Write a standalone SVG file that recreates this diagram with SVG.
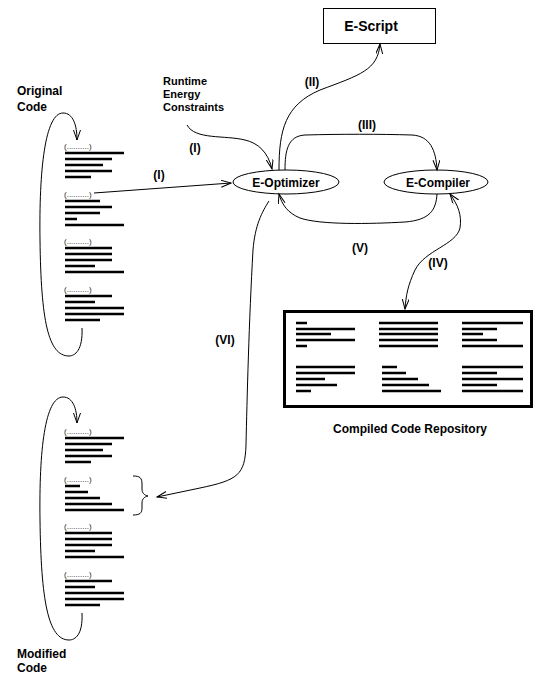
<svg xmlns="http://www.w3.org/2000/svg" width="535" height="681" viewBox="0 0 535 681">
<defs>
<style>
.t{font-family:"Liberation Sans",Arial,sans-serif;font-weight:bold;font-size:12px;fill:#000}
.s{font-size:11px}
.p{font-family:"Liberation Sans",Arial,sans-serif;font-size:8px;fill:#222}
.c{stroke:#000;stroke-width:1;fill:none}
.ln{stroke:#000;stroke-width:2.6;fill:none}
.node{stroke:#000;stroke-width:1;fill:#fff}
</style>
<marker id="ah" markerUnits="userSpaceOnUse" markerWidth="12" markerHeight="8" refX="10" refY="3.5" orient="auto-start-reverse">
<path d="M0,0 L10,3.5 L0,7" fill="none" stroke="#000" stroke-width="1"/>
</marker>
</defs>
<rect width="535" height="681" fill="#fff"/>

<g id="original-code">
<text class="t" x="17" y="95">Original</text>
<text class="t" x="17" y="111">Code</text>
<text class="p" x="64" y="149">(..........)</text>
<path class="ln" d="M65,153H124M65,159H112M65,165H103M65,171H112M65,177H91"/>
<text class="p" x="64" y="197">(..........)</text>
<path class="ln" d="M65,201H100M65,207H112M65,213H100M65,219H77M65,225H124"/>
<text class="p" x="64" y="244">(..........)</text>
<path class="ln" d="M65,248H112M65,254H112M65,260H112M65,266H95M65,272H124"/>
<text class="p" x="64" y="292">(..........)</text>
<path class="ln" d="M65,296H112M65,302H95M65,308H124M65,314H124M65,320H100"/>
</g>

<g id="modified-code">
<text class="p" x="64" y="434">(..........)</text>
<path class="ln" d="M65,438H124M65,444H112M65,450H103M65,456H112M65,462H91"/>
<text class="p" x="64" y="482">(..........)</text>
<path class="ln" d="M65,486H80M65,492H88M65,498H100M65,504H112M65,510H124"/>
<text class="p" x="64" y="529">(..........)</text>
<path class="ln" d="M65,533H112M65,539H112M65,545H112M65,551H95M65,557H124"/>
<text class="p" x="64" y="577">(..........)</text>
<path class="ln" d="M65,581H112M65,587H95M65,593H124M65,599H124M65,605H100"/>
<path class="c" d="M133,476 C140,476 142,478 142,484 L142,489 C142,493 144,495 148,496 C144,497 142,499 142,503 L142,508 C142,513 140,515 133,515"/>
<text class="t" x="17" y="658">Modified</text>
<text class="t" x="17" y="672">Code</text>
</g>

<g id="runtime-constraints">
<text class="t s" x="163" y="85">Runtime</text>
<text class="t s" x="163" y="98">Energy</text>
<text class="t s" x="163" y="111">Constraints</text>
</g>

<g id="e-script">
<rect class="node" x="323.5" y="8.5" width="112" height="35"/>
<text class="t" x="371" y="31" style="font-size:14px" text-anchor="middle">E-Script</text>
</g>

<g id="e-optimizer">
<ellipse class="node" cx="286" cy="182" rx="53" ry="12"/>
<text class="t" x="286" y="187" text-anchor="middle">E-Optimizer</text>
</g>

<g id="e-compiler">
<ellipse class="node" cx="436" cy="182" rx="52" ry="12"/>
<text class="t" x="438" y="187" text-anchor="middle">E-Compiler</text>
</g>

<g id="repository">
<rect x="284.5" y="311.5" width="247" height="95" fill="#fff" stroke="#000" stroke-width="3"/>
<path class="ln" d="M296,323H307M296,329H355M296,334H331M296,340H355M296,346H307"/>
<path class="ln" d="M379,323H438M379,329H438M379,334H438M379,340H438M379,346H438"/>
<path class="ln" d="M462,323H523M462,329H497M462,334H483M462,340H497M462,346H523"/>
<path class="ln" d="M296,367H355M296,373H355M296,379H325M296,385H337M296,391H311"/>
<path class="ln" d="M382,367H397M382,373H406M382,379H418M382,385H429M382,391H441"/>
<path class="ln" d="M462,367H523M462,373H497M462,379H523M462,385H497M462,391H523"/>
<text class="t" x="410" y="433" text-anchor="middle">Compiled Code Repository</text>
</g>

<g id="connectors">
<path class="c" d="M82,328 C83,350 75,356 69,356 C48,356 41,320 40,240 C39,170 45,113 63,113 C73,113 77,125 77,140" marker-end="url(#ah)"/>
<path class="c" d="M82,613 C83,635 75,640 69,640 C48,640 41,600 40,520 C39,450 45,397 63,397 C73,397 77,409 77,423" marker-end="url(#ah)"/>
<path class="c" d="M94,193 L231,183" marker-end="url(#ah)"/>
<path class="c" d="M187,125 C195,140 225,135 245,140 C258,143 268,152 272,169" marker-end="url(#ah)"/>
<path class="c" d="M279,170 C279,130 285,105 320,90 C360,75 378,70 380,44" marker-end="url(#ah)"/>
<path class="c" d="M285,170 C285,150 288,136 305,135 C340,134 380,134 412,135 C430,136 436,150 437,170" marker-end="url(#ah)"/>
<path class="c" d="M437,194 C436,210 430,220 405,222 C370,224 320,225 300,218 C288,213 282,205 279,194" marker-end="url(#ah)"/>
<path class="c" d="M450,194 C458,205 462,215 460,228 C456,245 425,250 415,270 C408,285 406,295 405,309" marker-start="url(#ah)" marker-end="url(#ah)"/>
<path class="c" d="M269,201 C262,212 255,225 253,250 C249,320 247,400 246,445 C245,475 238,480 200,488 L157,497" marker-end="url(#ah)"/>
<text class="t" x="159" y="179" text-anchor="middle">(I)</text>
<text class="t" x="195" y="152" text-anchor="middle">(I)</text>
<text class="t" x="312" y="86" text-anchor="middle">(II)</text>
<text class="t" x="367" y="129" text-anchor="middle">(III)</text>
<text class="t" x="438" y="267" text-anchor="middle">(IV)</text>
<text class="t" x="360" y="252" text-anchor="middle">(V)</text>
<text class="t" x="225" y="344" text-anchor="middle">(VI)</text>
</g>
</svg>
